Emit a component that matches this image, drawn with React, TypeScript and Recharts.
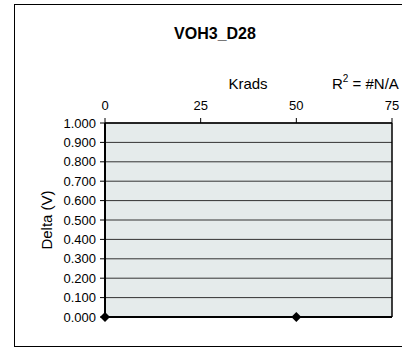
import { ScatterChart, Scatter, XAxis, YAxis, CartesianGrid, ReferenceLine, Customized } from "recharts"

const kradsTicks = [0, 25, 50, 75]
const deltaTicks = [0, 0.1, 0.2, 0.3, 0.4, 0.5, 0.6, 0.7, 0.8, 0.9, 1.0]
const kradsValues = [0, 50]
const deltaValues = [0, 0]

const points = kradsValues.map((k, i) => ({ krads: k, delta: deltaValues[i] }))

const FONT = "'Liberation Sans', Arial, sans-serif"

const Diamond = (props: any) => {
  const { cx, cy } = props
  return <polygon points={`${cx},${cy - 5} ${cx + 5},${cy} ${cx},${cy + 5} ${cx - 5},${cy}`} fill="#000" />
}

const Decorations = () => (
  <g fontFamily={FONT} fill="#000">
    <rect x={14.5} y={4.5} width={400} height={342} fill="none" stroke="#000" strokeWidth={1} />
    <text x={215} y={39} textAnchor="middle" fontSize={16} fontWeight="bold">
      VOH3_D28
    </text>
    <text x={248} y={89} textAnchor="middle" fontSize={15}>
      Krads
    </text>
    <text x={332} y={89} fontSize={15}>
      R<tspan fontSize={10} dy={-7}>2</tspan>
      <tspan dy={7}> = #N/A</tspan>
    </text>
  </g>
)

export default function App() {
  return (
    <div style={{ position: "absolute", left: 0, top: 0, width: 402, height: 348, background: "#fff" }}>
      <ScatterChart width={402} height={348} margin={{ top: 93, right: 10, bottom: 31, left: 14 }}>
        <Customized component={Decorations} />
        <CartesianGrid vertical={false} fill="#E5EBEB" stroke="#333" strokeWidth={1} fillOpacity={1} />
        <XAxis
          type="number"
          dataKey="krads"
          orientation="top"
          domain={[0, 75]}
          ticks={kradsTicks}
          interval={0}
          height={30}
          tickSize={5}
          tickMargin={8}
          axisLine={{ stroke: "#000", strokeWidth: 1.5 }}
          tickLine={{ stroke: "#000" }}
          tick={{ fill: "#000", fontSize: 13, fontFamily: FONT }}
        />
        <YAxis
          type="number"
          dataKey="delta"
          domain={[0, 1]}
          ticks={deltaTicks}
          interval={0}
          width={91}
          tickSize={5}
          tickMargin={4}
          tickFormatter={(v: number) => v.toFixed(3)}
          axisLine={{ stroke: "#000", strokeWidth: 2 }}
          tickLine={{ stroke: "#000" }}
          tick={{ fill: "#000", fontSize: 13, fontFamily: FONT }}
          label={{
            value: "Delta (V)",
            angle: -90,
            position: "insideLeft",
            offset: 33,
            style: { fill: "#000", fontSize: 15, fontFamily: FONT, textAnchor: "middle" },
          }}
        />
        <ReferenceLine x={75} stroke="#000" strokeWidth={1.5} />
        <ReferenceLine y={0} stroke="#000" strokeWidth={2} />
        <Scatter data={points} shape={Diamond} isAnimationActive={false} />
      </ScatterChart>
    </div>
  )
}
